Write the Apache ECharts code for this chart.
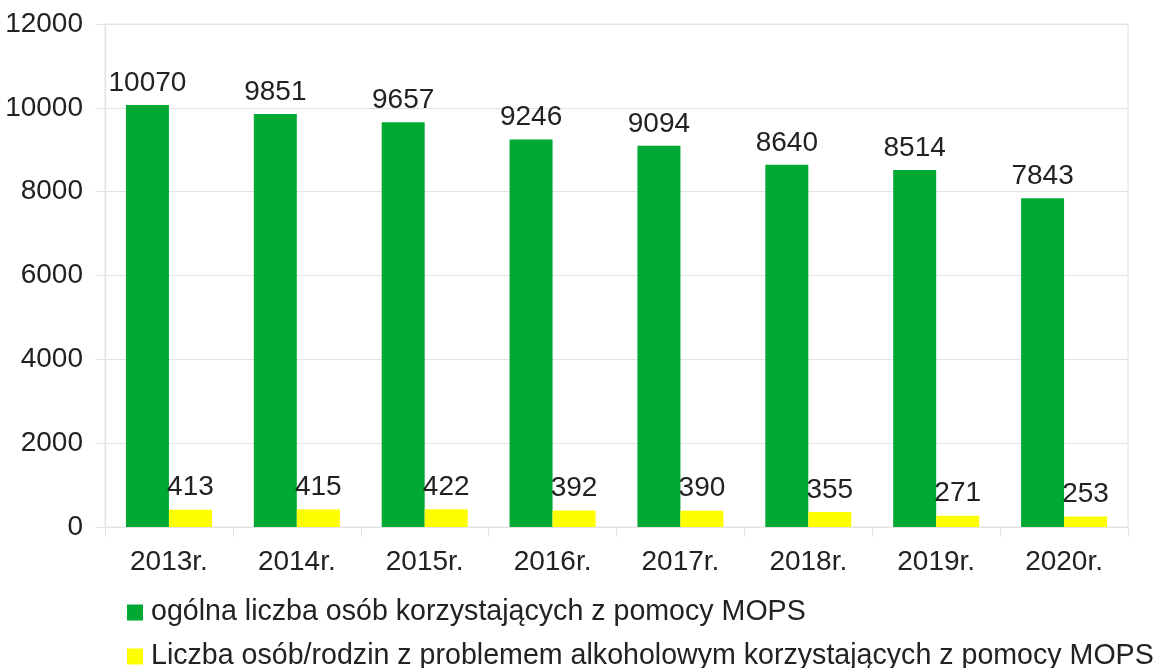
<!DOCTYPE html>
<html>
<head>
<meta charset="utf-8">
<script src="https://cdn.jsdelivr.net/npm/echarts@6/dist/echarts.min.js"></script>
<style>
  html, body { margin: 0; padding: 0; background: #fff; }
  #chart { width: 1161px; height: 668px; }
</style>
</head>
<body>
<div id="chart"></div>
<script>
// dane z wykresu
const years = ['2013r.', '2014r.', '2015r.', '2016r.', '2017r.', '2018r.', '2019r.', '2020r.'];
const ogolna = [10070, 9851, 9657, 9246, 9094, 8640, 8514, 7843];
const alkohol = [413, 415, 422, 392, 390, 355, 271, 253];
const seriesNames = [
    'ogólna liczba osób korzystających z pomocy MOPS',
    'Liczba osób/rodzin z problemem alkoholowym korzystających z pomocy MOPS'
];

const lineColor = '#e3e3e3';
const font = '"Liberation Sans", Arial, sans-serif';
const fs = 28;

// jedna legenda na wiersz
function makeLegend(name, top) {
    return {
        left: 122,
        top: top,
        itemWidth: 16,
        itemHeight: 16,
        icon: 'rect',
        textStyle: { fontSize: 28.6, color: '#222', fontFamily: font, padding: [0, 0, 0, 3] },
        data: [name]
    };
}

const chart = echarts.init(document.getElementById('chart'));

chart.setOption({
    animation: false,
    textStyle: { fontFamily: font },
    grid: {
        left: 105, right: 33, top: 24, bottom: 141,
        show: true, borderColor: lineColor, borderWidth: 1
    },
    legend: [makeLegend(seriesNames[0], 593), makeLegend(seriesNames[1], 637)],
    xAxis: {
        type: 'category',
        data: years,
        axisLine: { lineStyle: { color: lineColor } },
        axisTick: { show: true, length: 10, lineStyle: { color: lineColor } },
        axisLabel: { fontSize: fs, color: '#222', margin: 21, fontFamily: font }
    },
    yAxis: {
        type: 'value',
        min: 0,
        max: 12000,
        interval: 2000,
        axisLine: { show: true, lineStyle: { color: lineColor } },
        axisTick: { show: true, length: 10, lineStyle: { color: lineColor } },
        splitLine: { lineStyle: { color: lineColor } },
        axisLabel: { fontSize: fs, color: '#222', margin: 22, fontFamily: font, formatter: v => String(v) }
    },
    series: [
        {
            name: seriesNames[0],
            type: 'bar',
            data: ogolna,
            barWidth: 43,
            barGap: 0,
            itemStyle: { color: '#00a933' },
            label: { show: true, position: 'top', distance: 8, fontSize: fs, color: '#222', fontFamily: font }
        },
        {
            name: seriesNames[1],
            type: 'bar',
            data: alkohol,
            barWidth: 43,
            barGap: 0,
            itemStyle: { color: '#ffff00' },
            label: { show: true, position: 'top', distance: 8, fontSize: fs, color: '#222', fontFamily: font }
        }
    ]
});
</script>
</body>
</html>
